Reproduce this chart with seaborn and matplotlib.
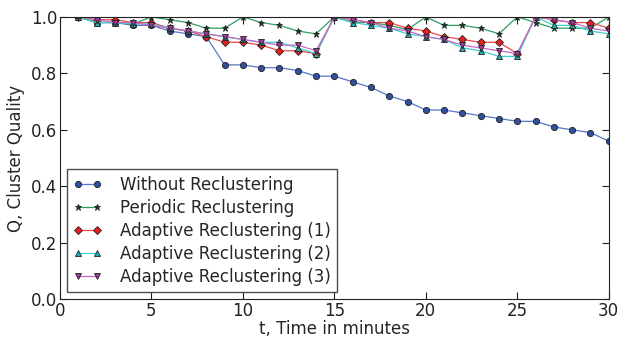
import seaborn as sns
import matplotlib.pyplot as plt

# --- Data ---
minutes = list(range(1, 31))

without = [1.00, 0.98, 0.98, 0.97, 0.97, 0.95, 0.94, 0.93, 0.83, 0.83,
           0.82, 0.82, 0.81, 0.79, 0.79, 0.77, 0.75, 0.72, 0.70, 0.67,
           0.67, 0.66, 0.65, 0.64, 0.63, 0.63, 0.61, 0.60, 0.59, 0.56]
periodic = [1.00, 0.98, 0.98, 0.975, 1.00, 0.99, 0.98, 0.96, 0.96, 1.00,
            0.98, 0.97, 0.95, 0.94, 1.00, 0.98, 0.98, 0.97, 0.955, 1.00,
            0.97, 0.97, 0.96, 0.94, 1.00, 0.98, 0.96, 0.96, 0.96, 1.00]
adaptive1 = [1.00, 0.99, 0.99, 0.98, 0.98, 0.96, 0.95, 0.93, 0.91, 0.91,
             0.90, 0.88, 0.88, 0.87, 1.00, 0.99, 0.98, 0.98, 0.96, 0.95,
             0.93, 0.92, 0.91, 0.91, 0.87, 1.00, 0.99, 0.98, 0.98, 0.96]
adaptive2 = [1.00, 0.98, 0.98, 0.975, 0.975, 0.96, 0.95, 0.94, 0.93, 0.92,
             0.91, 0.91, 0.89, 0.87, 1.00, 0.98, 0.97, 0.96, 0.94, 0.93,
             0.92, 0.89, 0.88, 0.86, 0.86, 1.00, 0.97, 0.97, 0.95, 0.94]
adaptive3 = [1.00, 0.99, 0.98, 0.98, 0.97, 0.96, 0.95, 0.94, 0.93, 0.92,
             0.91, 0.90, 0.90, 0.88, 1.00, 0.99, 0.98, 0.96, 0.95, 0.93,
             0.92, 0.90, 0.89, 0.88, 0.87, 1.00, 0.99, 0.98, 0.96, 0.95]

labels = ['Without Reclustering', 'Periodic Reclustering',
          'Adaptive Reclustering (1)', 'Adaptive Reclustering (2)',
          'Adaptive Reclustering (3)']
series = [without, periodic, adaptive1, adaptive2, adaptive3]
line_colors = ['#5577c8', '#2e9e62', '#f04848', '#40d0d0', '#c868c8']
face_colors = ['#2f4f9f', '#1f3a2a', '#e82020', '#20b0b0', '#9a3a9a']
markers = ['o', '*', 'D', '^', 'v']
sizes = [4.5, 5, 4.5, 4.5, 4.5]

# --- Visualization ---
sns.set_style("ticks")
plt.rcParams['font.family'] = ['DejaVu Sans']
plt.rcParams['xtick.direction'] = 'in'
plt.rcParams['ytick.direction'] = 'in'
plt.rcParams['xtick.top'] = True
plt.rcParams['ytick.right'] = True

fig = plt.figure(figsize=(6.18, 3.38), dpi=100)
ax = fig.add_axes([0.097, 0.115, 0.888, 0.835])

for vals, lab, lc, fc, mk, ms in zip(series, labels, line_colors, face_colors, markers, sizes):
    sns.lineplot(x=minutes, y=vals, ax=ax, color=lc, marker=mk,
                 markersize=ms, markerfacecolor=fc, markeredgecolor='#222222',
                 markeredgewidth=0.6, linewidth=0.9, label=lab)

ax.set_xlim(0, 30)
ax.set_ylim(0, 1.0)
ax.set_xticks([0, 5, 10, 15, 20, 25, 30])
ax.set_yticks([0.0, 0.2, 0.4, 0.6, 0.8, 1.0])
ax.tick_params(labelsize=12, length=5, width=0.8, colors='#222222', pad=2)
ax.set_xlabel('t, Time in minutes', fontsize=12, labelpad=0)
ax.set_ylabel('Q, Cluster Quality', fontsize=12, labelpad=4)
for sp in ax.spines.values():
    sp.set_color('#222222')

leg = ax.legend(loc='lower left', fontsize=12, frameon=True, fancybox=False,
                numpoints=2, handlelength=1.7, borderaxespad=0.4,
                labelspacing=0.3, borderpad=0.4, handletextpad=1.1)
leg.get_frame().set_edgecolor('#222222')
leg.get_frame().set_linewidth(1.0)

plt.savefig('out.png', dpi=100)
